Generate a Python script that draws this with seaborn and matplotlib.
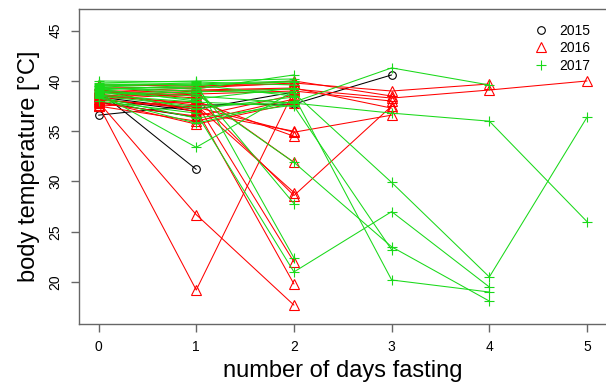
import matplotlib
matplotlib.use('Agg')
import matplotlib.pyplot as plt
from matplotlib.lines import Line2D
import numpy as np
import pandas as pd
import seaborn as sns

# body temperature per individual, index = day of fasting
temps_2015 = [
    [36.6, 37.6, 37.7, 40.6],
    [39.0, 31.2],
    [38.4, 37.2, 38.9],
    [37.9, 36.4],
    [38.2, 37.0],
]
temps_2016 = [
    [37.6, 19.2, 39.0],
    [37.9, 26.7, 17.7],
    [38.5, 37.8, 22.0],
    [38.2, 37.2, 19.8],
    [39.0, 38.3, 28.6, 37.5],
    [38.7, 37.6, 28.9],
    [38.4, 38.8, 31.9],
    [38.1, 37.4, 34.9, 36.6],
    [37.5, 38.0, 34.5],
    [39.2, 36.9, 35.0],
    [38.9, 39.3, 39.8, 39.0, 39.7],
    [38.5, 39.0, 39.2, 38.3, 39.1, 40.0],
    [39.3, 39.4, 40.0, 38.5],
    [38.2, 38.7, 39.0, 38.0],
    [37.5, 36.0, 38.2],
    [39.6, 39.5, 39.7],
    [38.0, 35.7, 37.8],
    [38.8, 39.1, 39.3, 37.3],
    [37.8, 36.5, 38.6],
    [39.1, 38.5],
]
temps_2017 = [
    [38.8, 33.4, 39.0],
    [39.5, 39.2, 40.6],
    [38.5, 37.5, 37.9, 41.3, 39.6],
    [39.0, 38.5, 37.8, 36.8, 36.0, 26.0],
    [39.3, 39.0, 38.8, 29.9, 20.5, 36.4],
    [38.0, 36.8, 21.0, 27.0, 19.5],
    [39.4, 38.7, 31.9, 23.5, 18.1],
    [39.1, 39.6, 38.5, 20.2, 19.0],
    [38.6, 37.9, 37.5, 23.2],
    [39.6, 39.8, 22.4],
    [39.2, 39.4, 27.8],
    [38.3, 35.8, 38.0],
    [39.8, 40.0, 40.2],
    [39.7, 39.6, 39.9],
    [38.9, 38.2, 39.3],
    [39.0, 37.2, 38.4],
    [38.4, 36.3, 37.6],
    [39.5, 39.7, 40.0],
    [40.0, 39.9, 39.6],
    [38.7, 38.9, 39.2],
    [39.2, 38.0],
]
years = ['2015', '2016', '2017']
year_data = [temps_2015, temps_2016, temps_2017]
colors = ['black', '#ff0000', '#19d919']
markers = ['o', '^', '+']
x_ticks = [0, 1, 2, 3, 4, 5]
y_ticks = [20, 25, 30, 35, 40, 45]

rows = []
for yr, traj in zip(years, year_data):
    for i, t in enumerate(traj):
        for day, val in enumerate(t):
            rows.append({'year': yr, 'id': f'{yr}_{i}', 'day': day, 'temp': val})
df = pd.DataFrame(rows)

sns.set_style('ticks')
plt.rcParams['font.family'] = ['Liberation Sans', 'DejaVu Sans']
plt.rcParams['text.color'] = 'black'
plt.rcParams['axes.labelcolor'] = 'black'
plt.rcParams['xtick.labelcolor'] = 'black'
plt.rcParams['ytick.labelcolor'] = 'black'

fig = plt.figure(figsize=(6.06, 3.90), dpi=100)
ax = fig.add_axes([79 / 606, 66.2 / 390, 527.6 / 606, 314.8 / 390])

for yr, c, m in zip(years, colors, markers):
    sub = df[df['year'] == yr]
    ms = 5.5 if m == 'o' else 6.5
    sns.lineplot(data=sub, x='day', y='temp', units='id', estimator=None,
                 color=c, marker=m, markersize=ms, mfc='none', mec=c, mew=0.8,
                 linewidth=0.75, legend=False, ax=ax, sort=True)

ax.set_xlim(-0.2, 5.2)
ax.set_ylim(15.84, 47.16)
ax.set_xticks(x_ticks)
ax.set_yticks(y_ticks)
ax.set_yticklabels([str(v) for v in y_ticks], rotation=90, va='center')
ax.tick_params(axis='both', direction='out', length=6, width=1, color='#666666',
               labelsize=10, pad=6, labelcolor='black')
for s in ax.spines.values():
    s.set_color('#666666')
    s.set_linewidth(1)
ax.set_xlabel('number of days fasting', fontsize=17, labelpad=4, color='black')
ax.set_ylabel('body temperature [°C]', fontsize=17, labelpad=6, color='black')

handles = [Line2D([], [], color=c, marker=m, linestyle='none',
                  markersize=(5.5 if m == 'o' else 6.5),
                  mfc='none', mec=c, mew=0.8) for c, m in zip(colors, markers)]
ax.legend(handles, years, loc='upper right', frameon=False, fontsize=10,
          handletextpad=0.3, labelspacing=0.25, borderaxespad=0.2,
          bbox_to_anchor=(0.985, 0.98), labelcolor='black')

fig.savefig('out.png', dpi=100)
